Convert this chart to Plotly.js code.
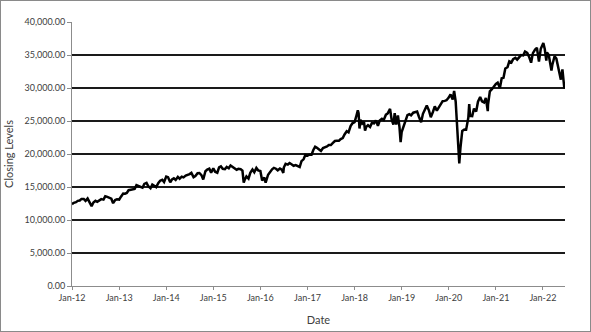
<!DOCTYPE html>
<html><head><meta charset="utf-8">
<script src="https://cdn.plot.ly/plotly-3.0.1.min.js"></script>
<style>
html,body{margin:0;padding:0;background:#fff;}
#wrap{position:relative;width:591px;height:332px;}
#chart{width:591px;height:332px;}
#frame{position:absolute;left:0;top:0;width:591px;height:332px;box-sizing:border-box;border:1px solid #8a8a8a;pointer-events:none;}
</style>
</head><body>
<div id="wrap"><div id="chart"></div><div id="frame"></div></div>
<script>
const dates = [
"2012-01-01","2012-01-15","2012-02-01","2012-02-15","2012-03-01","2012-03-15","2012-04-01","2012-04-15","2012-05-01","2012-05-15","2012-06-01","2012-06-15","2012-07-01","2012-07-15","2012-08-01","2012-08-15","2012-09-01","2012-09-15","2012-10-01","2012-10-15","2012-11-01","2012-11-15","2012-12-01","2012-12-15",
"2013-01-01","2013-01-15","2013-02-01","2013-02-15","2013-03-01","2013-03-15","2013-04-01","2013-04-15","2013-05-01","2013-05-15","2013-06-01","2013-06-15","2013-07-01","2013-07-15","2013-08-01","2013-08-15","2013-09-01","2013-09-15","2013-10-01","2013-10-15","2013-11-01","2013-11-15","2013-12-01","2013-12-15",
"2014-01-01","2014-01-15","2014-02-01","2014-02-15","2014-03-01","2014-03-15","2014-04-01","2014-04-15","2014-05-01","2014-05-15","2014-06-01","2014-06-15","2014-07-01","2014-07-15","2014-08-01","2014-08-15","2014-09-01","2014-09-15","2014-10-01","2014-10-15","2014-11-01","2014-11-15","2014-12-01","2014-12-15",
"2015-01-01","2015-01-15","2015-02-01","2015-02-15","2015-03-01","2015-03-15","2015-04-01","2015-04-15","2015-05-01","2015-05-15","2015-06-01","2015-06-15","2015-07-01","2015-07-15","2015-08-01","2015-08-15","2015-08-25","2015-09-01","2015-09-15","2015-10-01","2015-10-15","2015-11-01","2015-11-15","2015-12-01","2015-12-15",
"2016-01-01","2016-01-15","2016-02-01","2016-02-11","2016-03-01","2016-03-15","2016-04-01","2016-04-15","2016-05-01","2016-05-15","2016-06-01","2016-06-15","2016-06-27","2016-07-01","2016-07-15","2016-08-01","2016-08-15","2016-09-01","2016-09-15","2016-10-01","2016-10-15","2016-11-01","2016-11-15","2016-12-01","2016-12-15",
"2017-01-01","2017-01-15","2017-02-01","2017-02-15","2017-03-01","2017-03-15","2017-04-01","2017-04-15","2017-05-01","2017-05-15","2017-06-01","2017-06-15","2017-07-01","2017-07-15","2017-08-01","2017-08-15","2017-09-01","2017-09-15","2017-10-01","2017-10-15","2017-11-01","2017-11-15","2017-12-01","2017-12-15",
"2018-01-01","2018-01-15","2018-01-26","2018-02-01","2018-02-08","2018-02-15","2018-03-01","2018-03-15","2018-03-23","2018-04-01","2018-04-15","2018-05-01","2018-05-15","2018-06-01","2018-06-15","2018-07-01","2018-07-15","2018-08-01","2018-08-15","2018-09-01","2018-09-15","2018-10-03","2018-10-15","2018-10-29","2018-11-08","2018-11-20","2018-12-03","2018-12-15","2018-12-24",
"2019-01-01","2019-01-15","2019-02-01","2019-02-15","2019-03-01","2019-03-15","2019-04-01","2019-04-15","2019-05-01","2019-05-15","2019-06-01","2019-06-15","2019-07-01","2019-07-15","2019-08-01","2019-08-15","2019-09-01","2019-09-15","2019-10-01","2019-10-15","2019-11-01","2019-11-15","2019-12-01","2019-12-15",
"2020-01-01","2020-01-15","2020-02-01","2020-02-12","2020-02-24","2020-03-01","2020-03-09","2020-03-16","2020-03-23","2020-04-01","2020-04-15","2020-05-01","2020-05-15","2020-06-01","2020-06-08","2020-06-15","2020-07-01","2020-07-15","2020-08-01","2020-08-15","2020-09-01","2020-09-15","2020-10-01","2020-10-15","2020-10-30","2020-11-01","2020-11-15","2020-12-01","2020-12-15",
"2021-01-01","2021-01-15","2021-02-01","2021-02-15","2021-03-01","2021-03-15","2021-04-01","2021-04-15","2021-05-01","2021-05-15","2021-06-01","2021-06-15","2021-07-01","2021-07-15","2021-08-01","2021-08-15","2021-09-01","2021-09-15","2021-10-01","2021-10-15","2021-11-01","2021-11-15","2021-12-01","2021-12-15",
"2022-01-04","2022-01-15","2022-01-27","2022-02-01","2022-02-15","2022-03-01","2022-03-08","2022-03-15","2022-04-01","2022-04-15","2022-05-01","2022-05-15","2022-05-20","2022-06-01","2022-06-10","2022-06-16","2022-06-21"
];
const closingLevels = [
12400,12600,12700,12900,12950,13200,13200,12900,13250,12700,12100,12650,12900,12750,12980,13160,13090,13590,13500,13420,13230,12550,13020,13150,
13100,13530,14000,13980,14090,14510,14570,14600,14700,15270,15120,15070,14900,15480,15630,15110,14810,15370,15190,14980,15610,15960,16090,15760,
16570,16480,15700,16150,16320,16070,16530,16260,16560,16450,16720,16780,16950,17140,16490,16660,17100,17130,16800,16140,17390,17630,17780,17180,
17820,17320,17160,17970,18130,17750,17700,18030,17840,18270,18010,17790,17620,17760,17690,17480,15670,16060,16600,16280,17140,17660,17250,17880,17520,
17430,15990,16450,15660,16860,17250,17680,17900,17770,17530,17790,17640,17140,17950,18520,18400,18630,18420,18210,18310,18140,18030,18920,19190,19850,
19760,19890,19890,20610,21110,20950,20660,20450,20910,20980,21140,21360,21350,21640,21960,21990,21990,22270,22410,22960,23440,23270,24230,24650,
24820,25800,26620,26190,23860,25200,24610,24870,23530,24100,24360,24100,24710,24640,25090,24270,25060,25330,25160,25960,26150,26830,25250,24440,26190,24460,25830,24100,21790,
23330,24070,25060,25880,26030,25850,26260,26380,26430,25650,24820,26090,26720,27330,26580,25580,26400,27220,26570,27020,27350,28000,28050,28140,
28540,29030,28260,29550,27960,25410,23850,20190,18590,20940,23500,23720,23680,25480,27570,25770,25730,26870,26430,27930,28640,27990,27820,28490,26500,27480,29480,29820,30200,
30610,30810,29980,31460,31540,32950,33150,34040,33870,34380,34580,34300,34630,34990,34940,35520,35310,34750,33840,35290,35820,36090,34020,35930,
36800,35900,34160,35400,34990,33290,32630,33540,34820,34450,32980,32200,31260,32810,31390,29930,30530
];
const yTicks = [0,5000,10000,15000,20000,25000,30000,35000,40000];
const xTickDates = ["2012-01-01","2013-01-01","2014-01-01","2015-01-01","2016-01-01","2017-01-01","2018-01-01","2019-01-01","2020-01-01","2021-01-01","2022-01-01"];
const xTickLabels = ["Jan-12","Jan-13","Jan-14","Jan-15","Jan-16","Jan-17","Jan-18","Jan-19","Jan-20","Jan-21","Jan-22"];

const font = "Lato, 'Open Sans', sans-serif";
Plotly.newPlot("chart", [{
  type: "scatter", mode: "lines", x: dates, y: closingLevels,
  line: {color: "#000", width: 2.5}, hoverinfo: "skip"
}], {
  width: 591, height: 332,
  margin: {l: 72, r: 26, t: 22, b: 46},
  paper_bgcolor: "#fff", plot_bgcolor: "#fff",
  showlegend: false,
  font: {family: font, size: 9, color: "#404040"},
  xaxis: {
    type: "date", range: ["2012-01-01", "2022-06-21"],
    tickvals: xTickDates, ticktext: xTickLabels,
    showgrid: false, zeroline: false,
    showline: true, linecolor: "#8c8c8c", linewidth: 1,
    ticks: "outside", ticklen: 3, tickcolor: "#8c8c8c",
    tickfont: {family: font, size: 9, color: "#404040"},
    title: {text: "Date", font: {family: font, size: 11, color: "#404040"}, standoff: 14}
  },
  yaxis: {
    range: [0, 40000], tickvals: yTicks, tickformat: ",.2f",
    showgrid: true, gridcolor: "#1a1a1a", gridwidth: 1.2, zeroline: false,
    showline: true, linecolor: "#8c8c8c", linewidth: 1,
    ticks: "outside", ticklen: 4, tickcolor: "#8c8c8c",
    tickfont: {family: font, size: 9, color: "#404040"},
    title: {text: "Closing Levels", font: {family: font, size: 11, color: "#404040"}, standoff: 8}
  }
}, {staticPlot: true});
</script>
</body></html>
